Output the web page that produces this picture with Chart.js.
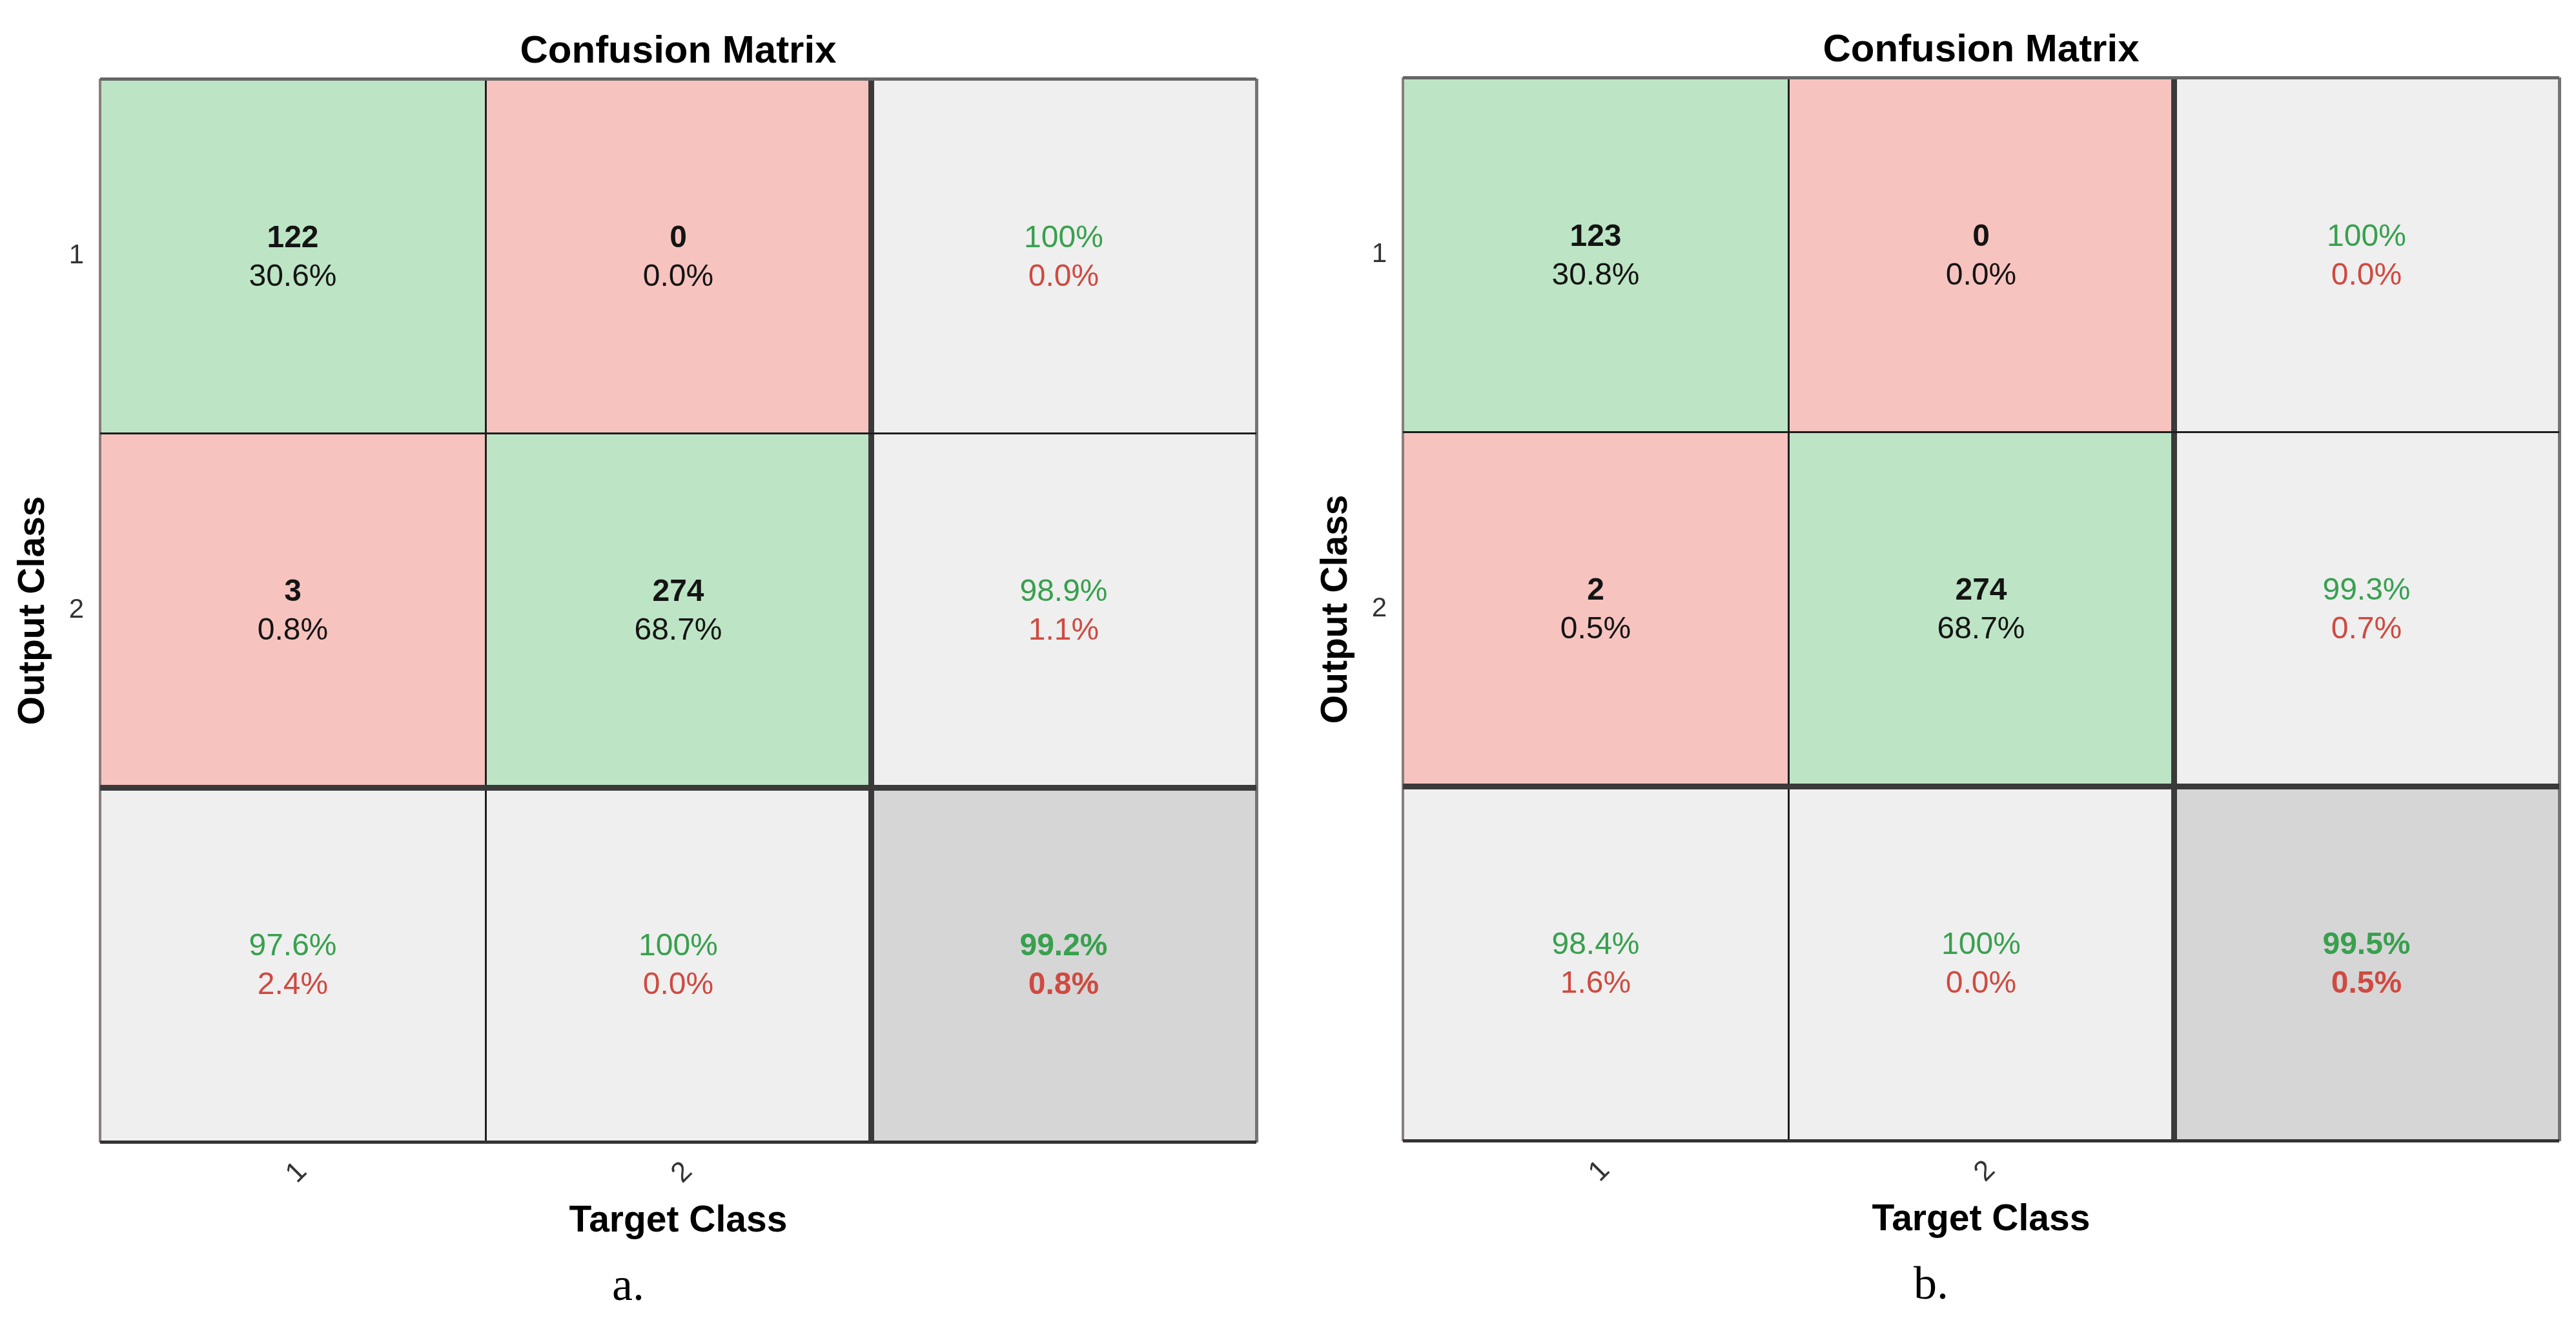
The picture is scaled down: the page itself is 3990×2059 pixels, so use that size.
<!DOCTYPE html>
<html><head><meta charset="utf-8">
<script src="https://cdn.jsdelivr.net/npm/chart.js@4.4.1/dist/chart.umd.min.js"></script>
<style>
html,body{margin:0;padding:0;background:#fff;width:3990px;height:2059px;overflow:hidden;}
.panel{position:absolute;top:0;height:2059px;}
#pa{left:0;width:1995px;}
#pb{left:2018px;top:-2px;width:1972px;}
</style></head><body>
<div class="panel" id="pa"><canvas id="ca"></canvas></div>
<div class="panel" id="pb"><canvas id="cb"></canvas></div>
<script>
// ---- data ----
const xTickLabels = ['1', '2', ''];      // target class (columns) + summary column
const yTickLabels = ['1', '2', ''];      // output class (rows) + summary row
const countsA = [[122, 0], [3, 274]];    // rows = output class, cols = target class
const countsB = [[123, 0], [2, 274]];
const captions = ['a.', 'b.'];
const chartTitle = 'Confusion Matrix';
const xTitle = 'Target Class';
const yTitle = 'Output Class';

// ---- styles ----
const FONT = '"Liberation Sans", Arial, Helvetica, sans-serif';
const BG_GREEN = '#bde5c5', BG_RED = '#f7c3bf', BG_GREY = '#efefef', BG_DARK = '#d6d6d6';
const TXT_BLACK = '#141414', TXT_GREEN = '#38a04e', TXT_RED = '#cf4a40';
const X_LINES = [{w:4,c:'#8a7d7d'},{w:3,c:'#1e1e1e'},{w:9,c:'#3a3a3a'},{w:5,c:'#747474'}];
const Y_LINES = [{w:5,c:'#666666'},{w:3,c:'#1e1e1e'},{w:9,c:'#3a3a3a'},{w:5,c:'#333333'}];

function pct(v) { return (Math.abs(v - 100) < 1e-9 ? '100' : v.toFixed(1)) + '%'; }

function cellInfo(counts, r, c) {
  const n = counts.length;
  let total = 0, trace = 0;
  for (let i = 0; i < n; i++) { trace += counts[i][i]; for (let j = 0; j < n; j++) total += counts[i][j]; }
  if (r < n && c < n) {
    return {bg: r === c ? BG_GREEN : BG_RED,
      lines: [String(counts[r][c]), pct(100 * counts[r][c] / total)],
      colors: [TXT_BLACK, TXT_BLACK], weights: ['bold', 'normal']};
  }
  let p, bg = BG_GREY, w = 'normal';
  if (r < n && c === n) { let s = 0; for (let j = 0; j < n; j++) s += counts[r][j]; p = 100 * counts[r][r] / s; }
  else if (r === n && c < n) { let s = 0; for (let i = 0; i < n; i++) s += counts[i][c]; p = 100 * counts[c][c] / s; }
  else { p = 100 * trace / total; bg = BG_DARK; w = 'bold'; }
  return {bg, lines: [pct(p), pct(100 - p)], colors: [TXT_GREEN, TXT_RED], weights: [w, w]};
}

function makeChart(canvasId, counts, caption, padRight) {
  const size = counts.length + 1;
  const cells = [];
  const datasets = [];
  for (let r = 0; r < size; r++) {
    const row = [];
    for (let c = 0; c < size; c++) row.push(cellInfo(counts, r, c));
    cells.push(row);
    datasets.push({
      label: 'Output ' + yTickLabels[r],
      data: xTickLabels.map(() => 1),
      backgroundColor: row.map(ci => ci.bg),
      borderWidth: 0, barPercentage: 1, categoryPercentage: 1
    });
  }
  const textPlugin = {
    id: 'cellText',
    afterDraw(chart) {
      const ctx = chart.ctx;
      ctx.save();
      ctx.textAlign = 'center'; ctx.textBaseline = 'middle';
      chart.data.datasets.forEach((ds, r) => {
        chart.getDatasetMeta(r).data.forEach((el, c) => {
          const info = cells[r][c];
          const cx = el.x, cy = (el.y + el.base) / 2;
          info.lines.forEach((t, k) => {
            ctx.font = info.weights[k] + ' 48px ' + FONT;
            ctx.fillStyle = info.colors[k];
            ctx.fillText(t, cx, cy + (k === 0 ? -28 : 32));
          });
        });
      });
      ctx.restore();
    }
  };
  const lastIdx = size;
  const xStyle = (ctx) => X_LINES[ctx.index === undefined ? lastIdx : ctx.index];
  const yStyle = (ctx) => {
    const v = ctx.tick ? ctx.tick.value : null;
    return (v !== null && Number.isInteger(v)) ? Y_LINES[v] : {w: 0, c: 'rgba(0,0,0,0)'};
  };
  return new Chart(document.getElementById(canvasId), {
    type: 'bar',
    data: {labels: xTickLabels, datasets},
    options: {
      responsive: true, maintainAspectRatio: false, animation: false, devicePixelRatio: 1, events: [],
      layout: {padding: {left: 0, right: padRight, top: 0, bottom: 0}},
      plugins: {
        legend: {display: false}, tooltip: {enabled: false},
        title: {display: true, text: chartTitle, fullSize: false, color: '#000',
          font: {family: FONT, size: 60, weight: 'bold', lineHeight: 1.2}, padding: {top: 44, bottom: 6}},
        subtitle: {display: true, position: 'bottom', text: caption, fullSize: true, color: '#000',
          font: {family: '"Liberation Serif", "Times New Roman", serif', size: 72, weight: 'normal', lineHeight: 1.2},
          padding: {top: 0, bottom: 21}}
      },
      scales: {
        x: {
          type: 'category', stacked: true, offset: true,
          grid: {display: true, offset: true, z: 1, drawTicks: false,
            lineWidth: (ctx) => xStyle(ctx).w, color: (ctx) => xStyle(ctx).c},
          border: {display: false},
          ticks: {autoSkip: false, minRotation: 45, maxRotation: 45, padding: 20, labelOffset: 15,
            color: '#333', font: {family: FONT, size: 44}},
          title: {display: true, text: xTitle, color: '#000',
            font: {family: FONT, size: 57, weight: 'bold', lineHeight: 1.2}, padding: {top: 0, bottom: 25}},
          afterFit: (s) => { s.height = 182; }
        },
        y: {
          type: 'linear', stacked: true, reverse: true, min: 0, max: size,
          afterBuildTicks: (s) => { const t = []; for (let v = 0; v <= size; v += 0.5) t.push({value: v}); s.ticks = t; },
          grid: {display: true, z: 1, drawTicks: false,
            lineWidth: (ctx) => yStyle(ctx).w, color: (ctx) => yStyle(ctx).c},
          border: {display: false},
          ticks: {autoSkip: false, padding: 25, color: '#333', font: {family: FONT, size: 42},
            callback: (v) => Number.isInteger(v) ? '' : yTickLabels[Math.floor(v)]},
          title: {display: true, text: yTitle, color: '#000',
            font: {family: FONT, size: 57, weight: 'bold', lineHeight: 1.2}, padding: {top: 18, bottom: 0}},
          afterFit: (s) => { s.width = 155; }
        }
      }
    },
    plugins: [textPlugin]
  });
}

makeChart('ca', countsA, captions[0], 49);
makeChart('cb', countsB, captions[1], 26);
</script>
</body></html>
